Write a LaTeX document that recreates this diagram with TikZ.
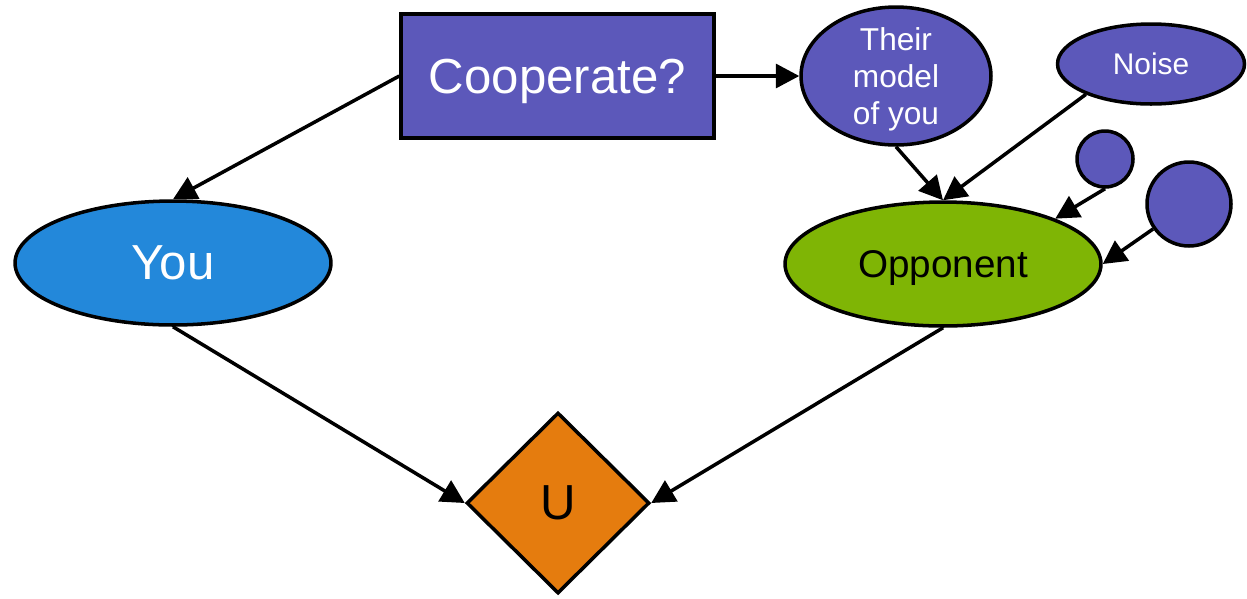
\documentclass[tikz,border=0pt]{standalone}
\usepackage{fontspec}
\setmainfont{Liberation Sans}
\usetikzlibrary{shapes.geometric,arrows.meta}
\definecolor{lila}{RGB}{92,88,186}
\definecolor{blau}{RGB}{35,136,218}
\definecolor{gruen}{RGB}{127,181,5}
\definecolor{orange}{RGB}{229,124,14}
\def\h{0.02}
\def\punkt#1#2{
	({(#1)*\h},{(-#2)*\h})
}
\tikzset{
	knoten/.style={draw,ellipse,inner sep=0pt,line width=2pt,text depth=0pt},
	kreis/.style={draw,circle,inner sep=0pt,line width=2pt,fill=lila},
	pfeil/.style={->,line width=2pt}
}
\begin{document}
\begin{tikzpicture}[>={Triangle[length=0.47cm,width=0.48cm]}]
	\useasboundingbox (0,0) rectangle \punkt{1247}{598};
	% Entscheidung
	\node[draw,line width=2pt,fill=lila,text=white,minimum width=6.26cm,
		minimum height=2.48cm,text depth=0pt,font=\fontsize{28}{34}\selectfont]
		(frage) at \punkt{557.5}{76} {Cooperate?};
	% Spieler
	\node[knoten,fill=blau,text=white,minimum width=6.32cm,minimum height=2.48cm,
		font=\fontsize{28}{34}\selectfont] (du) at \punkt{173}{263} {You};
	\node[knoten,fill=gruen,minimum width=6.32cm,minimum height=2.48cm,
		font=\fontsize{22}{26}\selectfont] (gegner) at \punkt{943}{264} {Opponent};
	% Einfluesse auf den Gegner
	\node[knoten,fill=lila,minimum width=3.8cm,minimum height=2.76cm,
		label={[text=white,align=center,yshift=-0.07cm,font=\fontsize{18}{21}\selectfont]center:Their\\model\\of you}]
		(modell) at \punkt{896}{76} {};
	\node[knoten,fill=lila,text=white,minimum width=3.74cm,minimum height=1.6cm,
		font=\fontsize{17}{20}\selectfont] (rauschen) at \punkt{1151}{64} {Noise};
	\node[kreis,minimum size=1.12cm] (kreisA) at \punkt{1105}{159} {};
	\node[kreis,minimum size=1.68cm] (kreisB) at \punkt{1189}{204} {};
	% Nutzen
	\node[draw,diamond,line width=2pt,fill=orange,inner sep=0pt,minimum width=3.66cm,
		minimum height=3.62cm,font=\fontsize{28}{34}\selectfont]
		(nutzen) at \punkt{558}{503} {U};
	% Pfeile
	\draw[pfeil] (frage.west) -- (du.north);
	\draw[pfeil] (frage.east) -- (modell.west);
	\draw[pfeil] (modell.south) -- (gegner.north);
	\draw[pfeil] (rauschen.205) -- (gegner.north);
	\draw[pfeil] (kreisA.south) -- (gegner.22);
	\draw[pfeil] (kreisB) -- (gegner.east);
	\draw[pfeil] (du.south) -- (nutzen.west);
	\draw[pfeil] (gegner.south) -- (nutzen.east);
\end{tikzpicture}
\end{document}
